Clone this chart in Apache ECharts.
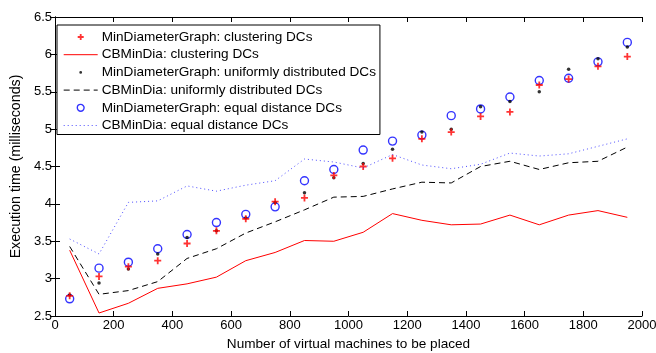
<!DOCTYPE html>
<html>
<head>
<meta charset="utf-8">
<script src="https://cdn.jsdelivr.net/npm/echarts@6/dist/echarts.min.js"></script>
<style>
  html, body { margin: 0; padding: 0; background: #fff; }
  #chart { width: 656px; height: 353px; }
</style>
</head>
<body>
<div id="chart"></div>
<script>
// number of VMs (x positions)
var vms = [50, 150, 250, 350, 450, 550, 650, 750, 850, 950, 1050, 1150, 1250, 1350, 1450, 1550, 1650, 1750, 1850, 1950];

// MinDiameterGraph markers
var mdgClustering = [2.77, 3.03, 3.16, 3.24, 3.47, 3.64, 3.80, 4.03, 4.08, 4.38, 4.50, 4.61, 4.87, 4.96, 5.17, 5.23, 5.59, 5.67, 5.84, 5.97];
var mdgUniform = [2.78, 2.94, 3.13, 3.33, 3.55, 3.64, 3.81, 4.02, 4.15, 4.35, 4.54, 4.73, 4.96, 5.00, 5.30, 5.37, 5.50, 5.80, 5.94, 6.10];
var mdgEqual = [2.73, 3.14, 3.22, 3.40, 3.59, 3.75, 3.86, 3.96, 4.31, 4.46, 4.72, 4.84, 4.92, 5.18, 5.27, 5.43, 5.65, 5.68, 5.90, 6.16];

// CBMinDia lines
var cbClustering = [3.38, 2.54, 2.67, 2.87, 2.93, 3.02, 3.24, 3.35, 3.51, 3.50, 3.62, 3.87, 3.78, 3.72, 3.73, 3.85, 3.72, 3.85, 3.91, 3.82];
var cbUniform = [3.43, 2.79, 2.84, 2.96, 3.27, 3.40, 3.61, 3.76, 3.92, 4.09, 4.10, 4.20, 4.29, 4.28, 4.50, 4.57, 4.46, 4.55, 4.57, 4.76];
var cbEqual = [3.53, 3.33, 4.02, 4.04, 4.24, 4.17, 4.25, 4.31, 4.60, 4.56, 4.48, 4.66, 4.52, 4.47, 4.53, 4.68, 4.64, 4.67, 4.77, 4.87];

var names = [
  'MinDiameterGraph: clustering DCs',
  'CBMinDia: clustering DCs',
  'MinDiameterGraph: uniformly distributed DCs',
  'CBMinDia: uniformly distributed DCs',
  'MinDiameterGraph: equal distance DCs',
  'CBMinDia: equal distance DCs'
];

function pairs(ys) {
  return vms.map(function (x, i) { return [x, ys[i]]; });
}

var plusPath = 'path://M2.6 0h1.8v2.6h2.6v1.8h-2.6v2.6h-1.8v-2.6h-2.6v-1.8h2.6z';
// legend icons padded to the 34x10 legend box so markers keep their size
var plusIcon = 'path://M0 0M34 10M16.1 2h1.8v2.1h2.1v1.8h-2.1v2.1h-1.8v-2.1h-2.1v-1.8h2.1z';
var dotIcon = 'path://M0 0M34 10M17 3.6a1.4 1.4 0 1 1 -0.01 0z';
var circleIcon = 'path://M0 0M34 10M17 1.6a3.4 3.4 0 1 1 -0.01 0z';
var noMarker = { color: 'rgba(0,0,0,0)', borderWidth: 0, opacity: 0 };

var font = 'Liberation Sans, Arial, Helvetica, sans-serif';
var chart = echarts.init(document.getElementById('chart'), null, { renderer: 'canvas' });

var axisLine = { show: true, lineStyle: { color: '#000', width: 1 } };
var tick = { show: true, inside: true, length: 5, lineStyle: { color: '#000' } };

chart.setOption({
  animation: false,
  backgroundColor: '#fff',
  textStyle: { fontFamily: font },
  grid: { left: 55, right: 14, top: 17, bottom: 37, containLabel: false, outerBoundsMode: 'none' },
  legend: {
    orient: 'vertical',
    left: 57,
    top: 25,
    padding: [5, 4, 2, 6],
    itemWidth: 34,
    itemHeight: 10,
    itemGap: 3.7,
    backgroundColor: '#fff',
    borderColor: '#000',
    borderWidth: 1,
    borderRadius: 0,
    textStyle: { fontSize: 13.6, lineHeight: 14, color: '#000', fontFamily: font, padding: [0, 0, 0, -1] },
    data: [
      { name: names[0], icon: plusIcon, itemStyle: { color: '#ff0000' } },
      { name: names[1], itemStyle: noMarker, lineStyle: { color: '#ff0000', width: 1 } },
      { name: names[2], icon: dotIcon, itemStyle: { color: '#000' } },
      { name: names[3], itemStyle: noMarker, lineStyle: { color: '#000', width: 1, type: [6, 4] } },
      { name: names[4], icon: circleIcon, itemStyle: { color: 'rgba(0,0,0,0)', borderColor: '#0000ff', borderWidth: 1.4 } },
      { name: names[5], itemStyle: noMarker, lineStyle: { color: '#0000ff', width: 1, type: [1, 3], opacity: 0.7 } }
    ]
  },
  xAxis: [{
    type: 'value', min: 0, max: 2000, interval: 200,
    name: 'Number of virtual machines to be placed',
    nameLocation: 'middle', nameGap: 20,
    nameTextStyle: { fontSize: 13.6, color: '#000' },
    axisLine: axisLine, axisTick: tick,
    axisLabel: { fontSize: 13, color: '#000', margin: 3, formatter: function (v) { return String(v); } },
    splitLine: { show: false }
  }, {
    type: 'value', min: 0, max: 2000, interval: 200, position: 'top',
    axisLine: axisLine, axisTick: tick, axisLabel: { show: false }, splitLine: { show: false }
  }],
  yAxis: [{
    type: 'value', min: 2.5, max: 6.5, interval: 0.5,
    name: 'Execution time (milliseconds)',
    nameLocation: 'middle', nameGap: 27,
    nameTextStyle: { fontSize: 14.2, color: '#000' },
    axisLine: axisLine, axisTick: tick,
    axisLabel: { fontSize: 13, color: '#000', margin: 3 },
    splitLine: { show: false }
  }, {
    type: 'value', min: 2.5, max: 6.5, interval: 0.5, position: 'right',
    axisLine: axisLine, axisTick: tick, axisLabel: { show: false }, splitLine: { show: false }
  }],
  series: [
    {
      name: names[1], type: 'line', data: pairs(cbClustering),
      symbol: 'none', lineStyle: { color: '#ff0000', width: 1 }, itemStyle: { color: '#ff0000' }
    },
    {
      name: names[3], type: 'line', data: pairs(cbUniform),
      symbol: 'none', lineStyle: { color: '#000', width: 1, type: [6, 4] }, itemStyle: { color: '#000' }
    },
    {
      name: names[5], type: 'line', data: pairs(cbEqual),
      symbol: 'none', lineStyle: { color: '#0000ff', width: 1, type: [1, 3], opacity: 0.7 }, itemStyle: { color: '#0000ff' }
    },
    {
      name: names[4], type: 'scatter', data: pairs(mdgEqual),
      symbol: 'circle', symbolSize: 8,
      itemStyle: { color: 'rgba(0,0,0,0)', borderColor: '#0000ff', borderWidth: 1.4 }
    },
    {
      name: names[2], type: 'scatter', data: pairs(mdgUniform),
      symbol: 'circle', symbolSize: 3.5, itemStyle: { color: '#000' }
    },
    {
      name: names[0], type: 'scatter', data: pairs(mdgClustering),
      symbol: plusPath, symbolSize: 7, itemStyle: { color: '#ff0000' }
    }
  ]
});
</script>
</body>
</html>
